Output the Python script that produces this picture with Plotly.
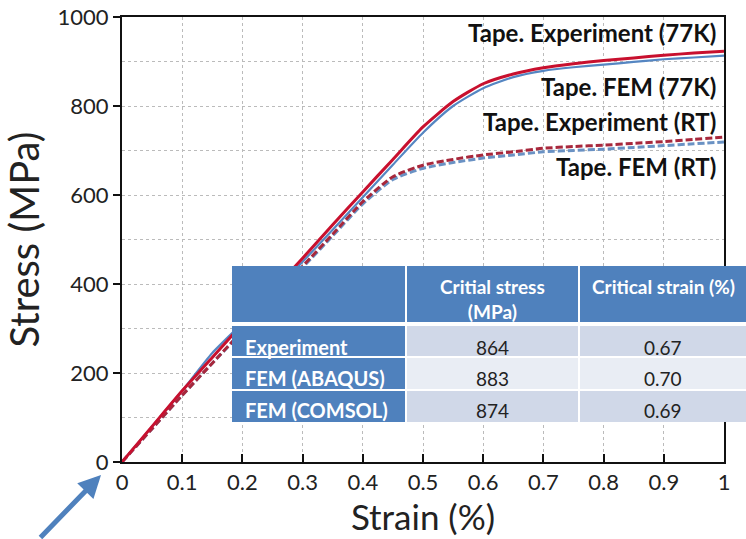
import plotly.graph_objects as go

# ---- data ----
strain = [0, 0.05, 0.1, 0.15, 0.2, 0.25, 0.3, 0.35, 0.4, 0.45, 0.5, 0.55, 0.6,
          0.65, 0.7, 0.75, 0.8, 0.85, 0.9, 0.95, 1.0]
exp_77k = [0, 80, 160, 235, 310, 385, 458, 533, 607, 680, 753, 810, 850,
           872, 886, 895, 902, 908, 914, 919, 923]
fem_77k = [0, 80, 160, 245, 312, 380, 450, 522, 595, 668, 740, 800, 840,
           865, 879, 887, 893, 899, 905, 909, 913]
exp_rt = [0, 75, 150, 222, 295, 368, 440, 512, 585, 641, 667, 680, 690,
          697, 705, 709, 712, 716, 720, 725, 730]
fem_rt = [0, 75, 150, 222, 293, 365, 437, 508, 580, 635, 660, 673, 683,
          690, 697, 700, 703, 707, 711, 715, 719]

series_labels = ["Tape. Experiment (77K)", "Tape. FEM (77K)",
                 "Tape. Experiment (RT)", "Tape. FEM (RT)"]
label_y = [966, 843, 766, 663]

table_header = ["", "Critial stress<br>(MPa)", "Critical strain (%)"]
table_methods = ["Experiment", "FEM (ABAQUS)", "FEM (COMSOL)"]
table_stress = ["864", "883", "874"]
table_strain = ["0.67", "0.70", "0.69"]

x_ticks = [0, 0.1, 0.2, 0.3, 0.4, 0.5, 0.6, 0.7, 0.8, 0.9, 1]
x_ticktext = ["0", "0.1", "0.2", "0.3", "0.4", "0.5", "0.6", "0.7", "0.8", "0.9", "1"]
y_ticks = [0, 200, 400, 600, 800, 1000]

# ---- styles ----
RED = "#C8102E"
BLUE = "#5586C2"
TBLUE = "#4F81BD"
RED_D = "#A8283C"
BLUE_D = "#6A92C4"
ROW_FILLS = ["#D0D8E8", "#E9EDF4", "#D0D8E8"]
FONT = "Lato"

W, H = 746, 539
ML, MR, MT, MB = 122, 0, 17, 77
PW = 618  # effective paper width observed in the rendered page
PH = H - MT - MB


def px(x):  # pixel -> paper x
    return (x - ML) / PW


def py(y):  # pixel -> paper y
    return (H - MB - y) / PH


fig = go.Figure()
fig.add_trace(go.Scatter(x=strain, y=fem_rt, mode="lines",
                         line=dict(color=BLUE_D, width=3, dash="7px,3px",
                                   shape="spline", smoothing=0.6),
                         name=series_labels[3], showlegend=False))
fig.add_trace(go.Scatter(x=strain, y=exp_rt, mode="lines",
                         line=dict(color=RED_D, width=3, dash="7px,3px",
                                   shape="spline", smoothing=0.6),
                         name=series_labels[2], showlegend=False))
fig.add_trace(go.Scatter(x=strain, y=fem_77k, mode="lines",
                         line=dict(color=BLUE, width=2.2, shape="spline", smoothing=0.6),
                         name=series_labels[1], showlegend=False))
fig.add_trace(go.Scatter(x=strain, y=exp_77k, mode="lines",
                         line=dict(color=RED, width=3, shape="spline", smoothing=0.6),
                         name=series_labels[0], showlegend=False))

# ---- inset table (layout in pixels) ----
col_edges = [232, 406, 579, 748]
row_edges = [(266, 322), (326, 356), (358, 389), (391, 422)]
text_y = [347, 378, 410]

shapes = [dict(type="rect", xref="paper", yref="paper", layer="above",
               x0=px(col_edges[0]), x1=px(col_edges[-1]),
               y0=py(row_edges[-1][1]), y1=py(row_edges[0][0]),
               fillcolor="white", line=dict(width=0))]
for ci in range(3):
    x0 = col_edges[ci] + (1 if ci > 0 else 0)
    x1 = col_edges[ci + 1] - (1 if ci < 2 else 0)
    for ri, (r0, r1) in enumerate(row_edges):
        if ri == 0 or ci == 0:
            fill = TBLUE
        else:
            fill = ROW_FILLS[ri - 1]
        shapes.append(dict(type="rect", xref="paper", yref="paper", layer="above",
                           x0=px(x0), x1=px(x1), y0=py(r1), y1=py(r0),
                           fillcolor=fill, line=dict(width=0)))

annotations = []
# header
annotations.append(dict(x=px((col_edges[1] + col_edges[2]) / 2), y=py(273),
                        xref="paper", yref="paper", xanchor="center", yanchor="top",
                        text=f"<b>{table_header[1]}</b>", showarrow=False, align="center",
                        font=dict(family=FONT, size=19, color="white")))
annotations.append(dict(x=px(663), y=py(286),
                        xref="paper", yref="paper", xanchor="center", yanchor="middle",
                        text=f"<b>{table_header[2]}</b>", showarrow=False,
                        font=dict(family=FONT, size=19, color="white")))
for ri in range(3):
    annotations.append(dict(x=px(243), y=py(text_y[ri]), xref="paper", yref="paper",
                            xanchor="left", yanchor="middle",
                            text=f"<b>{table_methods[ri]}</b>", showarrow=False,
                            font=dict(family=FONT, size=20, color="white")))
    annotations.append(dict(x=px((col_edges[1] + col_edges[2]) / 2), y=py(text_y[ri]),
                            xref="paper", yref="paper", xanchor="center", yanchor="middle",
                            text=table_stress[ri], showarrow=False,
                            font=dict(family=FONT, size=19, color="#222")))
    annotations.append(dict(x=px(663), y=py(text_y[ri]),
                            xref="paper", yref="paper", xanchor="center", yanchor="middle",
                            text=table_strain[ri], showarrow=False,
                            font=dict(family=FONT, size=19, color="#222")))

for lab, yy in zip(series_labels, label_y):
    annotations.append(dict(x=0.99, y=yy, xref="x", yref="y", text=f"<b>{lab}</b>",
                            showarrow=False, xanchor="right", yanchor="middle",
                            font=dict(family=FONT, size=24, color="#111")))

# blue pointer arrow at bottom-left
annotations.append(dict(x=px(101), y=py(475), xref="paper", yref="paper", text="",
                        showarrow=True, ax=-62, ay=72, arrowhead=2, arrowsize=0.9,
                        arrowwidth=5, arrowcolor=TBLUE, standoff=0))

fig.update_layout(
    width=W, height=H,
    margin=dict(l=ML, r=MR, t=MT, b=MB),
    paper_bgcolor="white", plot_bgcolor="white",
    font=dict(family=FONT, color="#222"),
    shapes=shapes, annotations=annotations,
    xaxis=dict(domain=[0, px(724)], range=[0, 1], tickvals=x_ticks, ticktext=x_ticktext,
               ticks="inside", ticklen=8, tickwidth=2, tickcolor="#111",
               showline=True, linecolor="#111", linewidth=2, mirror=True,
               showgrid=True, gridcolor="#BBBBBB", griddash="dot", gridwidth=1,
               tickfont=dict(family=FONT, size=22, color="#222"),
               title=dict(text="Strain (%)", font=dict(family=FONT, size=35, color="#222"),
                          standoff=4),
               zeroline=False),
    yaxis=dict(range=[0, 1000], tickvals=y_ticks,
               ticks="outside", ticklen=7, tickwidth=2, tickcolor="#111",
               showline=True, linecolor="#111", linewidth=2, mirror=True,
               showgrid=True, gridcolor="#BBBBBB", griddash="dot", gridwidth=1,
               minor=dict(dtick=100, showgrid=True, gridcolor="#BBBBBB", griddash="dot"),
               tickfont=dict(family=FONT, size=22, color="#222"),
               title=dict(text="Stress (MPa)", font=dict(family=FONT, size=40, color="#222"),
                          standoff=6),
               zeroline=False),
)

fig.write_html("out.html")
